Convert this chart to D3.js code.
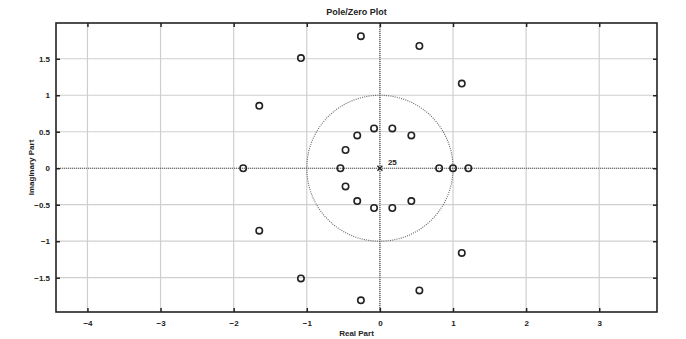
<!DOCTYPE html>
<html>
<head>
<meta charset="utf-8">
<script src="https://cdn.jsdelivr.net/npm/d3@7"></script>
<style>
  body { margin: 0; background: #fff; }
  text { font-family: "Liberation Sans", Arial, sans-serif; font-weight: bold; fill: #222; }
</style>
</head>
<body>
<div class="container"></div>
<script>
// zeros (real / imaginary parts)
var zeroRe = [-0.26, 0.54, -1.08, 1.12, -1.65, -1.65, -1.08, -0.26, 0.54, 1.12,
              -1.87, -0.54, 0.81, 1.0, 1.21,
              -0.08, 0.17, -0.31, 0.43, -0.47, -0.47, -0.31, 0.43, -0.08, 0.17];
var zeroIm = [1.81, 1.675, 1.51, 1.16, 0.855, -0.855, -1.51, -1.81, -1.675, -1.16,
              0, 0, 0, 0, 0,
              0.545, 0.545, 0.45, 0.45, 0.25, -0.25, -0.45, -0.45, -0.545, -0.545];
var poleRe = [0];
var poleIm = [0];
var poleCount = ["25"];

var xTicks = [-4, -3, -2, -1, 0, 1, 2, 3];
var yTicks = [-1.5, -1, -0.5, 0, 0.5, 1, 1.5];

var W = 686, H = 339;
var margin = {top: 23, right: 29, bottom: 27, left: 56},
    width = W - margin.left - margin.right,
    height = H - margin.top - margin.bottom;

var svg = d3.select(".container")
  .append("svg")
    .attr("width", W)
    .attr("height", H);

var g = svg.append("g")
  .attr("transform", "translate(" + margin.left + "," + margin.top + ")");

var x = d3.scaleLinear().domain([-4.43, 3.79]).range([0, width]);
var y = d3.scaleLinear().domain([-1.97, 1.99]).range([height, 0]);

// grid
g.append("g").selectAll("line").data(xTicks).enter().append("line")
  .attr("x1", d => x(d)).attr("x2", d => x(d))
  .attr("y1", 0).attr("y2", height)
  .style("stroke", "#cfcfcf").style("stroke-width", 1.2);
g.append("g").selectAll("line").data(yTicks).enter().append("line")
  .attr("y1", d => y(d)).attr("y2", d => y(d))
  .attr("x1", 0).attr("x2", width)
  .style("stroke", "#cfcfcf").style("stroke-width", 1.2);

// dotted real / imaginary axes and unit circle
g.append("line")
  .attr("x1", 0).attr("x2", width).attr("y1", y(0)).attr("y2", y(0))
  .style("stroke", "#555").style("stroke-width", 1.2).style("stroke-dasharray", "1,1");
g.append("line")
  .attr("x1", x(0)).attr("x2", x(0)).attr("y1", 0).attr("y2", height)
  .style("stroke", "#555").style("stroke-width", 1.2).style("stroke-dasharray", "1,1");
g.append("ellipse")
  .attr("cx", x(0)).attr("cy", y(0))
  .attr("rx", x(1) - x(0)).attr("ry", y(0) - y(1))
  .style("fill", "none").style("stroke", "#666").style("stroke-width", 1.1)
  .style("stroke-dasharray", "1,1.2");

// axes with inward ticks on all sides
function styleAxis(sel) {
  sel.select(".domain").remove();
  sel.selectAll(".tick line").style("stroke", "#222").style("stroke-width", 1.5);
  sel.selectAll(".tick text").style("font-size", "8px").style("font-weight", "bold");
}
g.append("g").attr("transform", "translate(0," + height + ")")
  .call(d3.axisBottom(x).tickValues(xTicks).tickSizeInner(-4).tickSizeOuter(0).tickPadding(8))
  .call(styleAxis);
g.append("g")
  .call(d3.axisTop(x).tickValues(xTicks).tickSizeInner(-4).tickSizeOuter(0).tickFormat(""))
  .call(styleAxis);
g.append("g")
  .call(d3.axisLeft(y).tickValues(yTicks).tickSizeInner(-4).tickSizeOuter(0).tickPadding(6)
        .tickFormat(d3.format("")))
  .call(styleAxis);
g.append("g").attr("transform", "translate(" + width + ",0)")
  .call(d3.axisRight(y).tickValues(yTicks).tickSizeInner(-4).tickSizeOuter(0).tickFormat(""))
  .call(styleAxis);

// box
g.append("rect")
  .attr("width", width).attr("height", height)
  .style("fill", "none").style("stroke", "#222").style("stroke-width", 1.6);

// zeros
var zeros = zeroRe.map(function(d, i) { return {re: d, im: zeroIm[i]}; });
g.append("g").selectAll("circle").data(zeros).enter().append("circle")
  .attr("cx", d => x(d.re)).attr("cy", d => y(d.im))
  .attr("r", 3.2)
  .style("fill", "none").style("stroke", "#222").style("stroke-width", 1.6);

// poles
var poles = poleRe.map(function(d, i) { return {re: d, im: poleIm[i], n: poleCount[i]}; });
var pg = g.append("g").selectAll("g").data(poles).enter().append("g")
  .attr("transform", d => "translate(" + x(d.re) + "," + y(d.im) + ")");
pg.append("path")
  .attr("d", "M-2.5,-2.5L2.5,2.5M-2.5,2.5L2.5,-2.5")
  .style("stroke", "#222").style("stroke-width", 1.3);
pg.append("text")
  .attr("x", 8).attr("y", -3)
  .style("font-size", "8px")
  .text(d => d.n);

// title and labels
svg.append("text")
  .attr("x", margin.left + width / 2).attr("y", 15)
  .attr("text-anchor", "middle")
  .style("font-size", "9px")
  .text("Pole/Zero Plot");
svg.append("text")
  .attr("x", margin.left + width / 2).attr("y", 336)
  .attr("text-anchor", "middle")
  .style("font-size", "8px")
  .text("Real Part");
svg.append("text")
  .attr("transform", "translate(34," + (margin.top + height / 2) + ") rotate(-90)")
  .attr("text-anchor", "middle")
  .style("font-size", "8px")
  .text("Imaginary Part");
</script>
</body>
</html>
